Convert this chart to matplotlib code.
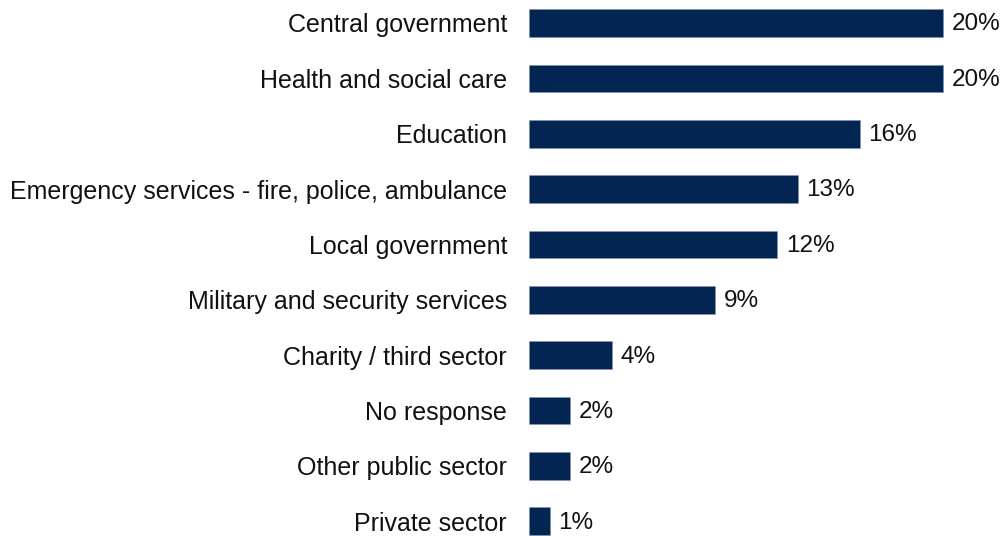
import matplotlib
matplotlib.use("Agg")
from matplotlib import pyplot as plt

plt.rcParams['font.family'] = ['Liberation Sans', 'DejaVu Sans']

sectors = ["Central government", "Health and social care", "Education",
           "Emergency services - fire, police, ambulance", "Local government",
           "Military and security services", "Charity / third sector",
           "No response", "Other public sector", "Private sector"]
shares = [20, 20, 16, 13, 12, 9, 4, 2, 2, 1]

bar_color = "#022552"

fig = plt.figure(figsize=(10.03, 5.36), dpi=100)
ax = fig.add_axes([0.5274, 0, 0.4726, 1])

ypos = list(range(len(sectors)))
ax.barh(ypos, shares, height=0.5, color=bar_color, edgecolor="#7f93b3", linewidth=0.4)

# value labels just past the end of each bar
for y, v in zip(ypos, shares):
    ax.annotate(f"{v}%", (v, y), xytext=(6, -1), textcoords="offset points",
                va="center", ha="left", fontsize=17.5, color="#111111")

ax.set_yticks(ypos)
ax.set_yticklabels(sectors, fontsize=18, color="#111111")
ax.tick_params(axis="y", length=0, pad=15.8)
ax.set_xticks([])
ax.set_xlim(0, 22.9)
ax.set_ylim(9.265, -0.415)
for s in ax.spines.values():
    s.set_visible(False)

plt.savefig("out.png", dpi=100)
